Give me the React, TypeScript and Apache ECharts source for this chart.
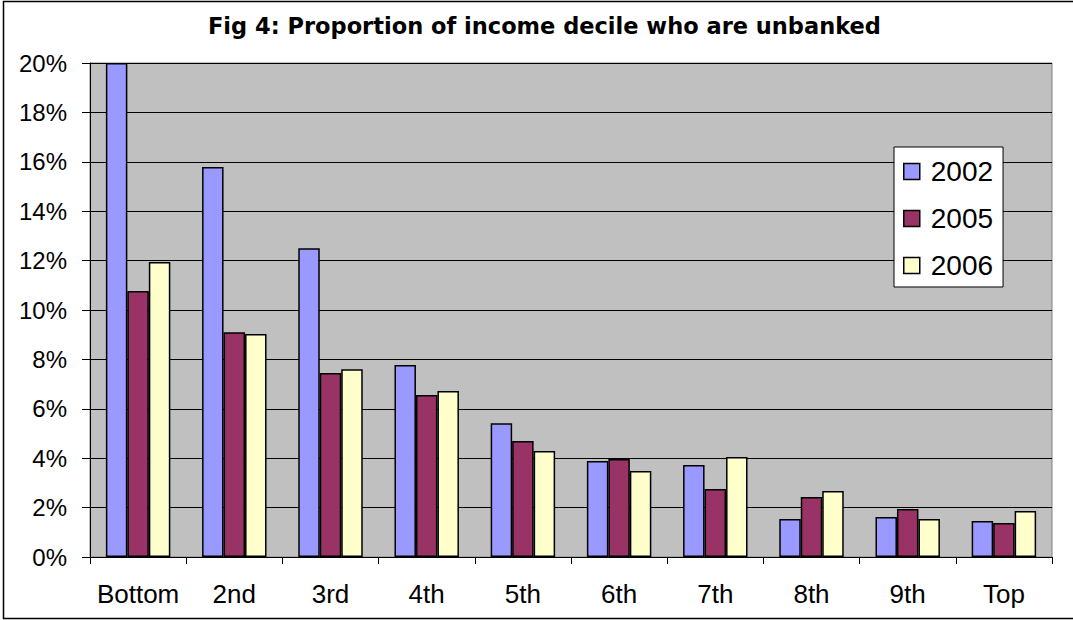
import React, { useEffect, useRef } from "react";
import * as echarts from "echarts";

const categories = ["Bottom", "2nd", "3rd", "4th", "5th", "6th", "7th", "8th", "9th", "Top"];
const seriesNames = ["2002", "2005", "2006"];
const values2002 = [20.0, 15.79, 12.5, 7.77, 5.42, 3.89, 3.72, 1.54, 1.62, 1.46];
const values2005 = [10.77, 9.1, 7.45, 6.56, 4.7, 3.97, 2.75, 2.43, 1.94, 1.38];
const values2006 = [11.94, 9.03, 7.6, 6.72, 4.29, 3.48, 4.05, 2.67, 1.54, 1.86];
const colors = ["#9999FF", "#993366", "#FFFFCC"];
const titleText = "Fig 4: Proportion of income decile who are unbanked";

export default function App() {
  const ref = useRef<HTMLDivElement>(null);
  useEffect(() => {
    if (!ref.current) return;
    const chart = echarts.init(ref.current, null, { renderer: "svg" });
    const data = [values2002, values2005, values2006];
    chart.setOption({
      animation: false,
      backgroundColor: "#ffffff",
      textStyle: { fontFamily: "Liberation Sans, Arial, sans-serif", color: "#000" },
      title: {
        text: titleText,
        left: 203,
        top: 9,
        textStyle: {
          fontFamily: "DejaVu Sans, sans-serif",
          fontWeight: "bold",
          fontSize: 22.5,
          color: "#000",
        },
      },
      grid: {
        left: 90,
        right: 21,
        top: 63,
        bottom: 63,
        show: true,
        backgroundColor: "#C0C0C0",
        borderColor: "#808080",
        borderWidth: 1,
      },
      legend: {
        orient: "vertical",
        left: 894,
        top: 147,
        padding: [9, 10, 6, 9],
        itemGap: 16,
        itemWidth: 16,
        itemHeight: 16,
        backgroundColor: "#ffffff",
        borderColor: "#000",
        borderWidth: 1,
        icon: "rect",
        itemStyle: { borderColor: "#000", borderWidth: 1.5 },
        textStyle: {
          fontFamily: "Liberation Sans, Arial, sans-serif",
          fontSize: 28,
          color: "#000",
          lineHeight: 31,
          padding: [0, 0, 0, 6],
        },
        data: seriesNames,
      },
      xAxis: {
        type: "category",
        data: categories,
        axisLine: { lineStyle: { color: "#000", width: 1 } },
        axisTick: { show: true, length: 7, lineStyle: { color: "#000" } },
        axisLabel: {
          interval: 0,
          fontSize: 26,
          color: "#000",
          margin: 24,
          fontFamily: "Liberation Sans, Arial, sans-serif",
        },
      },
      yAxis: {
        type: "value",
        min: 0,
        max: 20,
        interval: 2,
        axisLine: { show: true, lineStyle: { color: "#000", width: 1 } },
        axisTick: { show: true, length: 8, lineStyle: { color: "#000" } },
        axisLabel: {
          formatter: "{value}%",
          fontSize: 24,
          color: "#000",
          margin: 23,
          fontFamily: "Liberation Sans, Arial, sans-serif",
        },
        splitLine: { show: true, lineStyle: { color: "#000", width: 1 } },
      },
      series: seriesNames.map((name, i) => ({
        name,
        type: "bar",
        data: data[i],
        barGap: "0%",
        barCategoryGap: "33%",
        itemStyle: { color: colors[i], borderColor: "#000", borderWidth: 1.5 },
      })),
      graphic: [
        {
          type: "rect",
          shape: { x: 3.5, y: 1.5, width: 1080, height: 617 },
          style: { fill: "none", stroke: "#000", lineWidth: 1.5 },
          silent: true,
          z: 100,
        },
      ],
    });
    return () => chart.dispose();
  }, []);
  return (
    <div
      ref={ref}
      style={{ position: "fixed", left: 0, top: 0, width: 1073, height: 620 }}
    />
  );
}
